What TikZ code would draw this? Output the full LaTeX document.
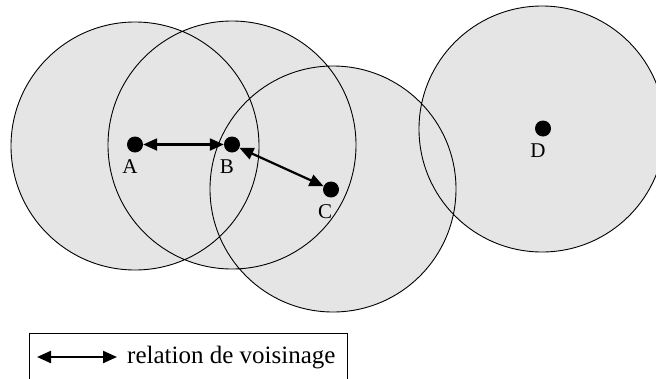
\documentclass[tikz,border=0pt]{standalone}
\usepackage{fontspec}
\setmainfont{Liberation Serif}
\usetikzlibrary{arrows.meta, positioning, backgrounds}

\begin{document}
\begin{tikzpicture}[x=1pt, y=-1pt,
    dot/.style={circle, fill=black, inner sep=0pt, minimum size=16pt},
    rel/.style={{Triangle[length=14pt,width=12pt]}-{Triangle[length=14pt,width=12pt]}, line width=2.2pt},
    lbl/.style={font=\fontsize{21}{24}\selectfont, inner sep=0pt}]
\useasboundingbox (0,0) rectangle (656,378);
\clip (0,0) rectangle (656,378);

% noeuds
\node[dot] (A) at (135,144.5) {};
\node[dot] (B) at (232,144.5) {};
\node[dot] (C) at (331,189.5) {};
\node[dot] (D) at (543,128.5) {};

\node[lbl, below=6.5pt of A, xshift=-5pt] (lA) {A};
\node[lbl, below=6.5pt of B, xshift=-5pt] (lB) {B};
\node[lbl, below=6.5pt of C, xshift=-6pt] (lC) {C};
\node[lbl, below=6.5pt of D, xshift=-5pt] (lD) {D};

% zones de portee
\begin{scope}[on background layer]
  \fill[gray!20] (135,146) circle[radius=124pt] (232,145) circle[radius=124pt]
                 (333,189) circle[radius=123pt] (542,129) circle[radius=123pt];
  \draw[line width=0.9pt] (135,146) circle[radius=124pt] (232,145) circle[radius=124pt]
                 (333,189) circle[radius=123pt] (542,129) circle[radius=123pt];
\end{scope}

% voisinage
\draw[rel] (A) -- (B);
\draw[rel] (B) -- (C);

% legende
\draw[line width=0.9pt] (29,395) |- (347,333) -- (347,395);
\coordinate (g1) at (37,357);
\coordinate (g2) at (117,357);
\draw[rel] (g1) -- (g2);
\node[font=\fontsize{25}{28}\selectfont, inner sep=0pt, anchor=base west] (leg) at (127,363) {relation de voisinage};
\end{tikzpicture}
\end{document}
